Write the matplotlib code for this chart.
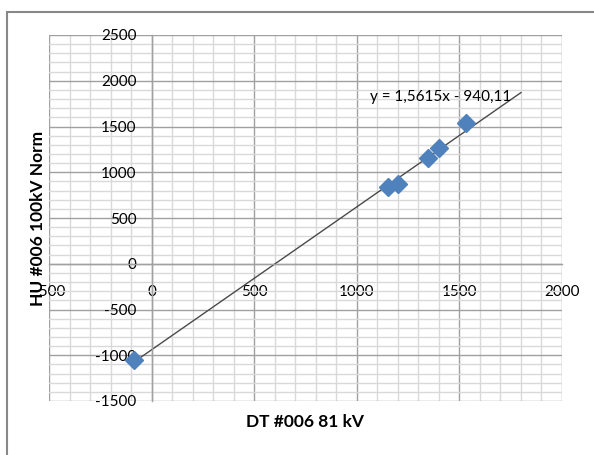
import numpy as np
import matplotlib
matplotlib.use("Agg")
import matplotlib.pyplot as plt
from matplotlib.ticker import MultipleLocator
from matplotlib.patches import Rectangle

# dati
dt_81kv = [-85, 1150, 1199, 1345, 1400, 1531]
hu_100kv = [-1050, 843, 870, 1153, 1262, 1535]

# trendline Excel
slope = 1.5615
intercept = -940.11
trend_x = [-85, 1800]
eq_label = "y = 1,5615x - 940,11"

plt.rcParams['font.family'] = ['Lato', 'Liberation Sans', 'DejaVu Sans']
plt.rcParams['axes.unicode_minus'] = False

fig = plt.figure(figsize=(5.94, 4.55), dpi=100)
ax = fig.add_axes([49/594, 54/455, 513/594, 366/455])

ax.set_xlim(-500, 2000)
ax.set_ylim(-1500, 2500)
ax.xaxis.set_major_locator(MultipleLocator(500))
ax.xaxis.set_minor_locator(MultipleLocator(100))
ax.yaxis.set_major_locator(MultipleLocator(500))
ax.yaxis.set_minor_locator(MultipleLocator(100))

ax.grid(which='major', color='#a0a0a0', lw=1.0)
ax.grid(which='minor', color='#d9d9d9', lw=1.0)
ax.set_axisbelow(True)

# assi che si incrociano in zero (stile Excel)
ax.spines['left'].set_position(('data', 0))
ax.spines['bottom'].set_position(('data', 0))
for s in ['left', 'bottom']:
    ax.spines[s].set_color('#a0a0a0')
    ax.spines[s].set_linewidth(1.0)
for s in ['top', 'right']:
    ax.spines[s].set_visible(False)

ax.tick_params(which='both', length=0)
ax.tick_params(axis='y', pad=11, labelsize=11)
ax.tick_params(axis='x', pad=15, labelsize=11)

tx = np.array(trend_x)
ax.plot(tx, slope*tx + intercept, color='#4a4a4a', lw=1.0, zorder=2)
ax.plot(dt_81kv, hu_100kv, 'D', color='#4f81bd', ms=9.5, mec='#4f81bd', zorder=3)

ax.text(1062, 1820, eq_label, fontsize=11, ha='left', va='center')

fig.text(305/594, 1 - 422/455, "DT #006 81 kV", fontsize=12.5, fontweight='bold',
         ha='center', va='center')
fig.text(38/594, 1 - 218/455, "HU #006 100kV Norm", fontsize=12.5, fontweight='bold',
         ha='center', va='center', rotation=90)

# bordo area grafico
fig.patches.append(Rectangle((7/594, -0.05), 1.2, 1 - 12/455 + 0.05, transform=fig.transFigure,
                             fill=False, ec='#888888', lw=1.5))

fig.savefig("out.png", dpi=100)
